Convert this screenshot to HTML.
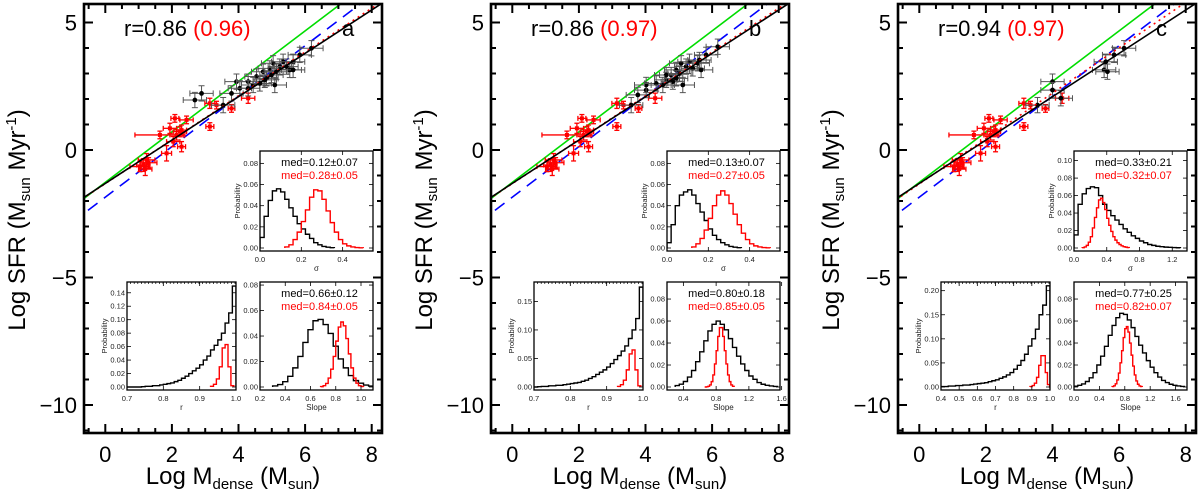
<!DOCTYPE html>
<html><head><meta charset="utf-8">
<style>
html,body{margin:0;padding:0;background:#fff;}
svg{display:block;font-family:"Liberation Sans",sans-serif;}
</style></head>
<body>
<svg id="fig" width="1200" height="489" viewBox="0 0 1200 489"></svg>
<script>
// ---------- data ----------
const panelLetters = ['a','b','c'];
const rBlack = ['0.86','0.86','0.94'];
const rRed = ['(0.96)','(0.97)','(0.97)'];
const mainXTicks = [0,2,4,6,8];
const mainYTicks = [5,0,-5,-10];

const redX = [1.14,1.24,1.04,1.84,1.94,2.09,2.24,2.29,2.04,2.44,3.14,3.14,3.34,3.79,4.29,1.64,2.14,2.29,1.2,1.3];
const redY = [-0.59,-0.39,-0.65,-0.13,0.85,1.24,0.72,0.13,0.33,1.18,0.92,1.83,1.76,1.63,2.03,0.59,0.59,0.78,-0.75,-0.5];
const redXErr = [0.2,0.25,0.3,0.15,0.2,0.12,0.2,0.12,0.2,0.2,0.12,0.15,0.2,0.1,0.2,0.75,0.2,0.15,0.2,0.25];
const redYErr = [0.25,0.25,0.2,0.3,0.2,0.15,0.2,0.2,0.2,0.15,0.15,0.2,0.15,0.15,0.2,0.15,0.2,0.2,0.25,0.2];

const blackXa = [2.69,2.89,3.54,3.79,3.94,4.04,4.29,4.29,4.44,4.54,4.64,4.74,4.84,4.94,5.04,5.09,5.14,5.24,5.34,5.44,5.54,5.64,5.64,5.84,6.19,4.99,4.79];
const blackYa = [1.96,2.22,1.76,2.22,2.68,2.42,2.68,2.42,2.55,2.88,2.61,3.07,2.81,3.2,3.4,2.55,3.07,3.27,3.46,3.27,3.14,3.46,3.14,3.73,3.99,2.94,2.75];
const blackXb = [3.57,3.77,4.02,4.02,4.32,4.52,4.62,4.77,4.82,4.92,5.02,5.07,5.12,5.22,5.32,5.42,5.57,5.67,5.62,5.82,6.17,4.62,4.92];
const blackYb = [1.76,2.16,2.35,2.55,2.61,2.55,2.75,2.94,2.68,3.14,3.0,3.4,2.55,3.27,3.46,3.2,3.4,3.14,3.53,3.73,4.05,2.94,2.81];
const blackXc = [3.55,4.0,4.0,4.25,5.55,5.65,5.6,5.85,6.15];
const blackYc = [1.76,2.68,2.35,2.03,3.14,3.07,3.46,3.73,3.99];
const blackXErrVal = 0.35;
const blackYErrVal = 0.3;

const greenFit = [[0.99,-1.27],[0.99,-1.27],[0.99,-1.27]];
const blackFit = [[0.85,-1.31],[0.85,-1.31],[0.85,-1.31]];
const blueFit  = [[0.99,-1.85],[0.99,-1.85],[0.99,-1.85]];
const redFit   = [[0.86,-1.32],[0.86,-1.32],[0.89,-1.33]];

const sigBlackA = [0.01,0.03,0.045,0.054,0.056,0.053,0.046,0.038,0.03,0.023,0.018,0.013,0.009,0.005,0.003,0.0015,0.0008,0.0003];
const sigRedA = [0.001,0.003,0.008,0.015,0.025,0.036,0.048,0.055,0.054,0.046,0.035,0.024,0.015,0.008,0.004,0.002,0.001,0.0004,0.0002];
const sigBlackB = [0.005,0.022,0.04,0.05,0.053,0.055,0.05,0.042,0.034,0.026,0.018,0.012,0.008,0.005,0.003,0.0015,0.0008,0.0003];
const sigRedB = [0.001,0.004,0.009,0.017,0.028,0.04,0.05,0.054,0.05,0.042,0.032,0.022,0.014,0.008,0.004,0.002,0.001,0.0004,0.0002];
const sigBlackC = [0.015,0.05,0.062,0.068,0.07,0.069,0.06,0.05,0.043,0.037,0.032,0.027,0.022,0.018,0.014,0.011,0.008,0.006,0.004,0.003,0.002,0.0015,0.001,0.0008,0.0005,0.0003];
const sigRedC = [0.0004,0.0012,0.003,0.0067,0.013,0.023,0.035,0.046,0.055,0.057,0.052,0.044,0.034,0.026,0.019,0.013,0.009,0.006,0.004,0.0025,0.0015,0.001,0.0005];
const rBlackA = [0,0,0,0,0.0005,0.001,0.001,0.002,0.002,0.003,0.004,0.005,0.006,0.008,0.01,0.013,0.016,0.02,0.024,0.028,0.033,0.04,0.046,0.055,0.062,0.07,0.08,0.095,0.11,0.15];
const rRedA = [0.001,0.004,0.012,0.03,0.058,0.063,0.03,0.002];
const rBlackB = [0,0.0005,0.001,0.001,0.002,0.002,0.003,0.003,0.004,0.005,0.006,0.007,0.008,0.01,0.012,0.015,0.018,0.022,0.026,0.03,0.035,0.041,0.048,0.055,0.063,0.072,0.085,0.1,0.12,0.175];
const rRedB = [0.001,0.004,0.012,0.03,0.058,0.065,0.03,0.002];
const rBlackC = [0.001,0.001,0.002,0.002,0.003,0.003,0.004,0.004,0.005,0.006,0.007,0.008,0.009,0.011,0.013,0.015,0.018,0.021,0.025,0.03,0.037,0.045,0.055,0.068,0.085,0.1,0.12,0.15,0.17,0.21];
const rRedC = [0.001,0.003,0.008,0.02,0.045,0.065,0.065,0.03,0.005,0];
const slBlackA = [0.0008,0.0019,0.0042,0.0084,0.015,0.024,0.035,0.045,0.052,0.053,0.049,0.042,0.032,0.022,0.015,0.009,0.005,0.003,0.0015,0.0007];
const slRedA = [0.0003,0.001,0.0028,0.007,0.014,0.024,0.036,0.047,0.051,0.048,0.038,0.026,0.015,0.007,0.003,0.001,0.0004];
const slBlackB = [0.0013,0.0026,0.005,0.009,0.015,0.023,0.032,0.042,0.051,0.057,0.06,0.057,0.052,0.044,0.036,0.028,0.021,0.015,0.01,0.007,0.004,0.0025,0.0015,0.001,0.0005];
const slRedB = [0,0.0002,0.0006,0.0019,0.0049,0.011,0.021,0.033,0.046,0.054,0.054,0.046,0.033,0.021,0.011,0.0049,0.0019,0.0006];
const slBlackC = [0.0007,0.0015,0.0028,0.005,0.0084,0.013,0.02,0.028,0.037,0.047,0.056,0.063,0.067,0.066,0.061,0.054,0.046,0.038,0.031,0.024,0.018,0.013,0.009,0.006,0.004,0.0025,0.0015,0.001,0.0005];
const slRedC = [0.0004,0.0011,0.0029,0.0064,0.0127,0.022,0.033,0.045,0.053,0.055,0.05,0.04,0.029,0.019,0.011,0.0055,0.0025,0.001,0.0004];

const medBlack = [['0.12±0.07','0.66±0.12'],['0.13±0.07','0.80±0.18'],['0.33±0.21','0.77±0.25']];
const medRed   = [['0.28±0.05','0.84±0.05'],['0.27±0.05','0.85±0.05'],['0.32±0.07','0.82±0.07']];

const insetCfg = [
 { sig:{xr:[0,0.547],yr:[0,0.0917],xt:['0.0','0.2','0.4'],yt:['0.00','0.02','0.04','0.06','0.08'],b:sigBlackA,bs:[0,0.02],r:sigRedA,rs:[0.12,0.02]},
   r:{xr:[0.7,1.0],yr:[0,0.156],xt:['0.7','0.8','0.9','1.0'],yt:['0.00','0.02','0.04','0.06','0.08','0.10','0.12','0.14'],b:rBlackA,bs:[0.7,0.01],r:rRedA,rs:[0.93,0.008]},
   sl:{xr:[0.2,1.095],yr:[0,0.0824],xt:['0.2','0.4','0.6','0.8','1.0'],yt:['0.00','0.02','0.04','0.06','0.08'],b:slBlackA,bs:[0.3,0.04],r:slRedA,rs:[0.68,0.02]} },
 { sig:{xr:[0,0.547],yr:[0,0.0917],xt:['0.0','0.2','0.4'],yt:['0.00','0.02','0.04','0.06','0.08'],b:sigBlackB,bs:[0,0.02],r:sigRedB,rs:[0.12,0.02]},
   r:{xr:[0.7,1.0],yr:[0,0.184],xt:['0.7','0.8','0.9','1.0'],yt:['0.00','0.05','0.10','0.15'],b:rBlackB,bs:[0.7,0.01],r:rRedB,rs:[0.93,0.008]},
   sl:{xr:[0.2,1.58],yr:[0,0.0955],xt:['0.4','0.8','1.2','1.6'],yt:['0.00','0.02','0.04','0.06','0.08'],b:slBlackB,bs:[0.3,0.05],r:slRedB,rs:[0.66,0.02]} },
 { sig:{xr:[0,1.38],yr:[0,0.111],xt:['0.0','0.4','0.8','1.2'],yt:['0.00','0.02','0.04','0.06','0.08','0.10'],b:sigBlackC,bs:[0,0.05],r:sigRedC,rs:[0.1,0.025]},
   r:{xr:[0.4,1.0],yr:[0,0.218],xt:['0.4','0.5','0.6','0.7','0.8','0.9','1.0'],yt:['0.00','0.05','0.10','0.15','0.20'],b:rBlackC,bs:[0.4,0.02],r:rRedC,rs:[0.89,0.012]},
   sl:{xr:[0,1.78],yr:[0,0.0955],xt:['0.0','0.4','0.8','1.2','1.6'],yt:['0.00','0.02','0.04','0.06','0.08'],b:slBlackC,bs:[0,0.06],r:slRedC,rs:[0.6,0.025]} }
];

// ---------- drawing ----------
const NS='http://www.w3.org/2000/svg';
const svg=document.getElementById('fig');
function mk(tag,attrs,parent){const e=document.createElementNS(NS,tag);for(const k in attrs)e.setAttribute(k,attrs[k]);(parent||svg).appendChild(e);return e;}

const offsets=[0,407,814];
const FL=84,FR=382,FT=4,FB=433;
function sx(off,x){return off+105.3+33.3*x;}
function sy(y){return 150-25.5*y;}

offsets.forEach((off,p)=>{
  const g=mk('g',{});
  
  
  const cid='clip'+p;
  const cp=mk('clipPath',{id:cid},g);
  mk('rect',{x:off+FL,y:FT,width:FR-FL,height:FB-FT},cp);
  const plot=mk('g',{'clip-path':'url(#'+cid+')'},g);

  function fitLine(fit,color,dash,w,name){
    const x0=-1,x1=9;
    const l=mk('line',{x1:sx(off,x0),y1:sy(fit[0]*x0+fit[1]),x2:sx(off,x1),y2:sy(fit[0]*x1+fit[1]),stroke:color,'stroke-width':w,fill:'none'},plot);
    if(dash)l.setAttribute('stroke-dasharray',dash);
    
    
  }
  fitLine(blueFit[p],'#0000ff','12,8',1.6,'blue-dashed-fit');
  fitLine(greenFit[p],'#00dd00',null,1.6,'green-fit-line');

  for(let i=0;i<redX.length;i++){
    const cx=sx(off,redX[i]),cy=sy(redY[i]);
    const ex=redXErr[i]*33.3,ey=redYErr[i]*25.5;
    const pg=mk('g',{stroke:'#ff0000','stroke-width':1.3,fill:'#ff0000'},plot);
    
    
    mk('line',{x1:cx-ex,y1:cy,x2:cx+ex,y2:cy},pg);
    mk('line',{x1:cx,y1:cy-ey,x2:cx,y2:cy+ey},pg);
    mk('line',{x1:cx-ex,y1:cy-2.5,x2:cx-ex,y2:cy+2.5},pg);
    mk('line',{x1:cx+ex,y1:cy-2.5,x2:cx+ex,y2:cy+2.5},pg);
    mk('line',{x1:cx-2.5,y1:cy-ey,x2:cx+2.5,y2:cy-ey},pg);
    mk('line',{x1:cx-2.5,y1:cy+ey,x2:cx+2.5,y2:cy+ey},pg);
    mk('rect',{x:cx-2,y:cy-2,width:4,height:4,stroke:'none'},pg);
  }
  const bx=[blackXa,blackXb,blackXc][p], by=[blackYa,blackYb,blackYc][p];
  for(let i=0;i<bx.length;i++){
    const cx=sx(off,bx[i]),cy=sy(by[i]);
    const ex=blackXErrVal*33.3,ey=blackYErrVal*25.5;
    const pg=mk('g',{stroke:'#555','stroke-width':1},plot);
    
    
    mk('line',{x1:cx-ex,y1:cy,x2:cx+ex,y2:cy},pg);
    mk('line',{x1:cx,y1:cy-ey,x2:cx,y2:cy+ey},pg);
    mk('line',{x1:cx-ex,y1:cy-3,x2:cx-ex,y2:cy+3},pg);
    mk('line',{x1:cx+ex,y1:cy-3,x2:cx+ex,y2:cy+3},pg);
    mk('line',{x1:cx-3,y1:cy-ey,x2:cx+3,y2:cy-ey},pg);
    mk('line',{x1:cx-3,y1:cy+ey,x2:cx+3,y2:cy+ey},pg);
    mk('circle',{cx:cx,cy:cy,r:2.4,fill:'#000',stroke:'none'},pg);
  }
  fitLine(redFit[p],'#ff0000','2,4',1.6,'red-dotted-fit');
  fitLine(blackFit[p],'#000000',null,1.6,'black-fit-line');

  const fr=mk('rect',{x:off+FL,y:FT,width:FR-FL,height:FB-FT,fill:'none',stroke:'#000','stroke-width':2.6},g);
  
  
  for(let v=-0.5;v<=8.3;v+=0.5){
    const X=sx(off,v); if(X<off+FL||X>off+FR)continue;
    const major=Math.abs(v%2)<1e-6; const L=major?9:5;
    mk('line',{x1:X,y1:FB,x2:X,y2:FB-L,stroke:'#000','stroke-width':2},g);
    mk('line',{x1:X,y1:FT,x2:X,y2:FT+L,stroke:'#000','stroke-width':2},g);
  }
  for(let v=-11;v<=5;v+=1){
    const Y=sy(v); const major=(v%5===0); const L=major?9:5;
    mk('line',{x1:off+FL,y1:Y,x2:off+FL+L,y2:Y,stroke:'#000','stroke-width':2},g);
    mk('line',{x1:off+FR,y1:Y,x2:off+FR-L,y2:Y,stroke:'#000','stroke-width':2},g);
  }
  mainXTicks.forEach(v=>{
    const t=mk('text',{x:sx(off,v),y:462,'font-size':22,'text-anchor':'middle'},g);
    t.textContent=String(v);
    
    
  });
  mainYTicks.forEach(v=>{
    const t=mk('text',{x:off+77,y:sy(v)+8,'font-size':22,'text-anchor':'end'},g);
    t.textContent=(v<0?'\u2212':'')+Math.abs(v);
    
    
  });
  const xt=mk('text',{x:off+233,y:484,'font-size':24,'text-anchor':'middle'},g);
  xt.innerHTML='Log M<tspan font-size="15" dy="5">dense</tspan><tspan dy="-5"> (M</tspan><tspan font-size="15" dy="5">sun</tspan><tspan dy="-5">)</tspan>';
  
  
  const yt=mk('text',{x:0,y:0,'font-size':24,'text-anchor':'middle',transform:'translate('+(off+25)+',220) rotate(-90)'},g);
  yt.innerHTML='Log SFR (M<tspan font-size="15" dy="5">sun</tspan><tspan dy="-5"> Myr</tspan><tspan font-size="15" dy="-9">-1</tspan><tspan dy="9">)</tspan>';
  
  
  const rt=mk('text',{x:off+124,y:36,'font-size':22},g);
  rt.innerHTML='r='+rBlack[p]+' <tspan fill="#ff0000">'+rRed[p]+'</tspan>';
  
  
  const lt=mk('text',{x:off+342,y:36,'font-size':22},g);
  lt.textContent=panelLetters[p];
  
  

  const cfg=insetCfg[p];
  const boxes={sig:[260,373,151,251],r:[127,236,282,390],sl:[260,373,282,390]};
  ['sig','r','sl'].forEach(key=>{
    const c=cfg[key],b=boxes[key];
    const L=off+b[0],R=off+b[1],T=b[2],B=b[3];
    const ig=mk('g',{},g);
    
    
    mk('rect',{x:L,y:T,width:R-L,height:B-T,fill:'#fff',stroke:'none'},ig);
    const ix=v=>L+(v-c.xr[0])/(c.xr[1]-c.xr[0])*(R-L);
    const iy=v=>B-3-(v-c.yr[0])/(c.yr[1]-c.yr[0])*(B-3-T);
    const icid='ic'+p+key;
    const icp=mk('clipPath',{id:icid},ig);
    mk('rect',{x:L,y:T,width:R-L,height:B-T},icp);
    function hist(vals,st,color,name){
      let d='M'+ix(st[0])+','+iy(0);
      vals.forEach((v,i)=>{const x0=ix(st[0]+i*st[1]),x1=ix(st[0]+(i+1)*st[1]);d+=' L'+x0+','+iy(v)+' L'+x1+','+iy(v);});
      d+=' L'+ix(st[0]+vals.length*st[1])+','+iy(0);
      const h=mk('path',{d:d,fill:'none',stroke:color,'stroke-width':1.4,'clip-path':'url(#'+icid+')'},ig);
      
      
    }
    hist(c.b,c.bs,'#000','black-histogram');
    hist(c.r,c.rs,'#ff0000','red-histogram');
    mk('rect',{x:L,y:T,width:R-L,height:B-T,fill:'none',stroke:'#000','stroke-width':1.3},ig);
    c.xt.forEach(s=>{
      const X=ix(parseFloat(s));
      mk('line',{x1:X,y1:B,x2:X,y2:B-4,stroke:'#000','stroke-width':0.8},ig);
      mk('line',{x1:X,y1:T,x2:X,y2:T+4,stroke:'#000','stroke-width':0.8},ig);
      const t=mk('text',{x:X,y:B+11,'font-size':7.5,'text-anchor':'middle',fill:'#222'},ig);
      t.textContent=s;
      
      
    });
    c.yt.forEach(s=>{
      const Y=iy(parseFloat(s));
      mk('line',{x1:L,y1:Y,x2:L+4,y2:Y,stroke:'#000','stroke-width':0.8},ig);
      mk('line',{x1:R,y1:Y,x2:R-4,y2:Y,stroke:'#000','stroke-width':0.8},ig);
      const t=mk('text',{x:L-2,y:Y+2.5,'font-size':7.5,'text-anchor':'end',fill:'#222'},ig);
      t.textContent=s;
      
      
    });
    if(key==='r'){
      for(let X=L;X<=R;X+=3.6)mk('line',{x1:X,y1:T,x2:X,y2:T+2,stroke:'#000','stroke-width':0.7},ig);
    }
    const tt=mk('text',{x:(L+R)/2,y:B+20,'font-size':8,'text-anchor':'middle',fill:'#222'},ig);
    tt.textContent= key==='sig'?'σ':(key==='r'?'r':'Slope');
    
    
    if(key!=='sl'){
      const pt=mk('text',{x:0,y:0,'font-size':7.5,'text-anchor':'middle',fill:'#222',transform:'translate('+(L-20)+','+((T+B)/2)+') rotate(-90)'},ig);
      pt.textContent='Probability';
      
      
    }
    if(key!=='r'){
      const idx=key==='sig'?0:1;
      const m1=mk('text',{x:(L+R)/2+3,y:T+15,'font-size':11,'text-anchor':'middle',fill:'#000'},ig);
      m1.textContent='med='+medBlack[p][idx];
      
      
      const m2=mk('text',{x:(L+R)/2+3,y:T+28,'font-size':11,'text-anchor':'middle',fill:'#ff0000'},ig);
      m2.textContent='med='+medRed[p][idx];
      
      
    }
  });
});
</script>
</body></html>
